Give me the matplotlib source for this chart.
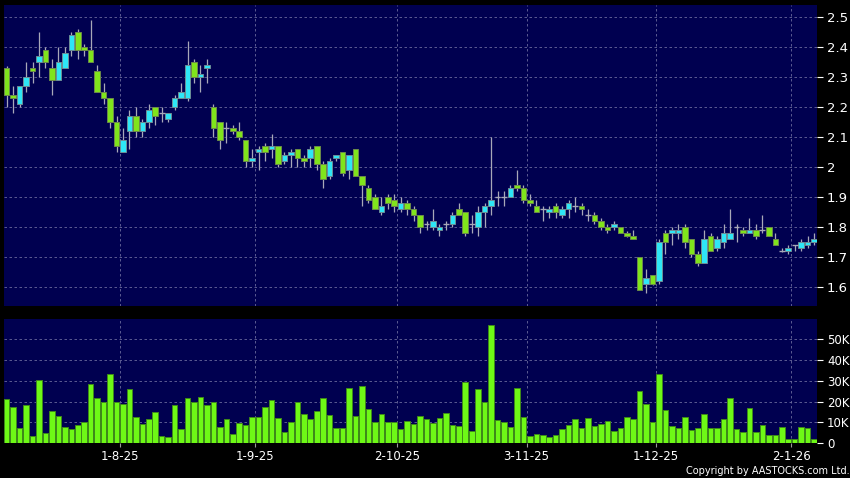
import matplotlib
matplotlib.use("Agg")
import matplotlib.pyplot as plt
import numpy as np

# daily OHLC, one entry per trading day (Jul 2025 - Jan 2026)
opens = [2.33, 2.24, 2.21, 2.27, 2.33, 2.35, 2.39, 2.33, 2.29, 2.33,
         2.39, 2.45, 2.40, 2.39, 2.32, 2.25, 2.23, 2.15, 2.05, 2.12,
         2.17, 2.12, 2.15, 2.20, 2.18, 2.16, 2.20, 2.23, 2.23, 2.35,
         2.30, 2.33, 2.20, 2.15, 2.13, 2.13, 2.12, 2.09, 2.02, 2.05,
         2.07, 2.06, 2.07, 2.02, 2.04, 2.06, 2.03, 2.03, 2.07, 2.01,
         1.97, 2.03, 2.05, 1.99, 2.06, 1.97, 1.93, 1.90, 1.85, 1.90,
         1.89, 1.86, 1.88, 1.86, 1.84, 1.81, 1.80, 1.79, 1.81, 1.81,
         1.86, 1.85, 1.81, 1.80, 1.85, 1.87, 1.90, 1.90, 1.90, 1.94,
         1.93, 1.89, 1.87, 1.86, 1.85, 1.87, 1.84, 1.86, 1.87, 1.87,
         1.84, 1.84, 1.82, 1.80, 1.80, 1.80, 1.78, 1.77, 1.70, 1.61,
         1.64, 1.62, 1.78, 1.78, 1.78, 1.80, 1.76, 1.71, 1.68, 1.77,
         1.73, 1.75, 1.76, 1.80, 1.79, 1.78, 1.79, 1.79, 1.80, 1.76,
         1.72, 1.72, 1.74, 1.73, 1.74, 1.75]
highs = [2.335, 2.27, 2.27, 2.35, 2.35, 2.45, 2.40, 2.36, 2.40, 2.40,
         2.45, 2.46, 2.41, 2.49, 2.34, 2.28, 2.23, 2.17, 2.13, 2.19,
         2.20, 2.16, 2.21, 2.20, 2.20, 2.18, 2.24, 2.28, 2.42, 2.36,
         2.34, 2.36, 2.21, 2.15, 2.15, 2.14, 2.15, 2.09, 2.06, 2.07,
         2.08, 2.11, 2.07, 2.05, 2.06, 2.06, 2.04, 2.07, 2.07, 2.02,
         2.03, 2.04, 2.05, 2.04, 2.06, 1.97, 1.94, 1.91, 1.90, 1.91,
         1.91, 1.90, 1.89, 1.87, 1.84, 1.82, 1.86, 1.81, 1.82, 1.85,
         1.88, 1.85, 1.84, 1.87, 1.88, 2.10, 1.92, 1.92, 1.94, 1.99,
         1.94, 1.91, 1.89, 1.87, 1.87, 1.88, 1.87, 1.89, 1.90, 1.88,
         1.86, 1.85, 1.83, 1.81, 1.82, 1.80, 1.785, 1.79, 1.70, 1.66,
         1.64, 1.76, 1.79, 1.80, 1.81, 1.81, 1.76, 1.72, 1.79, 1.78,
         1.77, 1.81, 1.86, 1.81, 1.80, 1.83, 1.81, 1.84, 1.80, 1.78,
         1.73, 1.74, 1.74, 1.76, 1.77, 1.78]
lows = [2.20, 2.18, 2.20, 2.25, 2.28, 2.30, 2.33, 2.24, 2.29, 2.33,
        2.37, 2.36, 2.37, 2.35, 2.25, 2.21, 2.13, 2.05, 2.05, 2.06,
        2.10, 2.10, 2.13, 2.14, 2.15, 2.15, 2.19, 2.23, 2.22, 2.28,
        2.25, 2.28, 2.10, 2.06, 2.08, 2.11, 2.09, 2.00, 2.00, 1.99,
        2.02, 2.03, 2.00, 2.01, 2.00, 2.00, 2.00, 2.00, 1.99, 1.93,
        1.96, 2.02, 1.97, 1.96, 1.97, 1.87, 1.88, 1.86, 1.84, 1.86,
        1.85, 1.85, 1.84, 1.82, 1.78, 1.79, 1.79, 1.77, 1.79, 1.80,
        1.84, 1.77, 1.78, 1.77, 1.80, 1.84, 1.87, 1.87, 1.90, 1.92,
        1.88, 1.87, 1.85, 1.82, 1.83, 1.83, 1.83, 1.83, 1.85, 1.84,
        1.82, 1.81, 1.79, 1.78, 1.79, 1.78, 1.765, 1.76, 1.59, 1.58,
        1.605, 1.61, 1.71, 1.74, 1.76, 1.73, 1.70, 1.67, 1.68, 1.72,
        1.72, 1.73, 1.76, 1.75, 1.77, 1.78, 1.76, 1.78, 1.77, 1.74,
        1.715, 1.71, 1.72, 1.72, 1.73, 1.74]
closes = [2.24, 2.23, 2.27, 2.30, 2.32, 2.37, 2.35, 2.29, 2.35, 2.38,
          2.44, 2.39, 2.39, 2.35, 2.25, 2.23, 2.15, 2.07, 2.09, 2.17,
          2.12, 2.15, 2.19, 2.17, 2.18, 2.18, 2.23, 2.25, 2.34, 2.30,
          2.31, 2.34, 2.13, 2.09, 2.13, 2.12, 2.10, 2.02, 2.03, 2.06,
          2.05, 2.07, 2.01, 2.04, 2.05, 2.03, 2.02, 2.06, 2.01, 1.96,
          2.02, 2.04, 1.98, 2.04, 1.97, 1.94, 1.89, 1.86, 1.87, 1.88,
          1.87, 1.88, 1.86, 1.84, 1.80, 1.81, 1.82, 1.80, 1.81, 1.84,
          1.84, 1.78, 1.81, 1.85, 1.87, 1.89, 1.90, 1.90, 1.93, 1.93,
          1.89, 1.88, 1.85, 1.86, 1.86, 1.85, 1.86, 1.88, 1.87, 1.86,
          1.84, 1.82, 1.80, 1.79, 1.81, 1.78, 1.77, 1.76, 1.59, 1.63,
          1.61, 1.75, 1.75, 1.79, 1.79, 1.75, 1.71, 1.68, 1.76, 1.72,
          1.76, 1.78, 1.78, 1.80, 1.78, 1.79, 1.77, 1.79, 1.77, 1.74,
          1.72, 1.73, 1.74, 1.75, 1.75, 1.76]
# volume in thousands of shares
volumes = [21.2, 17.4, 7.2, 18.2, 3.4, 30.2, 4.8, 15.3, 12.9, 7.7,
           6.9, 8.9, 10.1, 28.4, 21.7, 19.9, 33.1, 19.9, 18.7, 26.0,
           12.6, 9.1, 11.5, 14.9, 3.4, 2.9, 18.4, 6.9, 21.7, 19.6,
           22.0, 18.4, 19.9, 8.0, 11.6, 4.5, 9.6, 8.8, 12.6, 12.6,
           17.4, 20.6, 12.1, 5.3, 10.1, 19.6, 14.0, 11.5, 15.3, 21.6,
           13.6, 7.2, 7.2, 26.7, 13.2, 27.6, 16.4, 10.2, 13.9, 10.2,
           10.3, 6.7, 10.5, 9.4, 13.2, 11.6, 9.9, 12.3, 14.4, 8.8,
           8.1, 29.4, 5.7, 26.0, 19.9, 56.7, 11.0, 10.3, 7.7, 26.5,
           12.5, 3.4, 4.5, 4.1, 2.9, 4.0, 6.9, 8.8, 11.6, 7.2,
           12.0, 8.4, 9.1, 10.8, 6.1, 7.5, 12.6, 11.6, 24.9, 18.8,
           10.2, 33.4, 16.0, 8.1, 7.3, 12.8, 6.4, 7.3, 13.9, 7.2,
           7.2, 11.6, 21.9, 6.9, 5.3, 17.1, 5.4, 8.9, 3.8, 4.1,
           7.8, 2.1, 1.9, 8.0, 7.2, 2.1]

date_labels = ["1-8-25", "1-9-25", "2-10-25", "3-11-25", "1-12-25", "2-1-26"]
date_index = [17, 38, 60, 80, 100, 121]
price_ticks = [1.6, 1.7, 1.8, 1.9, 2.0, 2.1, 2.2, 2.3, 2.4, 2.5]
vol_ticks = [0, 10, 20, 30, 40, 50]

BG = "#000050"
GRID = "#6a6a9c"
UP = "#2ee6f6"
DOWN = "#80e41c"
WICK = "#a8a8b8"

o = np.array(opens)
h = np.array(highs)
l = np.array(lows)
c = np.array(closes)
x = np.arange(len(o))

fig = plt.figure(figsize=(8.5, 4.78), dpi=100, facecolor="black")
ax = fig.add_axes([0.0047, 0.3605, 0.9568, 0.629], facecolor=BG)
axv = fig.add_axes([0.0047, 0.0726, 0.9568, 0.26], facecolor=BG)

xt = np.array(date_index) + 0.5

for a in (ax, axv):
    for s in a.spines.values():
        s.set_visible(False)
    a.set_xlim(-0.42, 125.5)
    a.set_xticks(xt)
    for xv in xt:
        a.axvline(xv, color=GRID, lw=0.6, ls=(0, (3, 3)), zorder=0)
    a.yaxis.tick_right()
    a.tick_params(axis="y", colors="white", length=4, width=0.8, pad=3)

# price panel
ax.set_ylim(1.537, 2.539)
ax.set_yticks(price_ticks)
ax.set_yticklabels(["%g" % p for p in price_ticks], fontsize=9.5)
for p in price_ticks:
    ax.axhline(p, color=GRID, lw=0.6, ls=(0, (3, 3)), zorder=0)
ax.tick_params(axis="x", length=0, labelbottom=False)

ax.vlines(x, l, h, color=WICK, lw=0.9, zorder=2)
up = c > o
down = c < o
flat = c == o
ax.bar(x[up], (c - o)[up], bottom=o[up], width=0.86, color=UP,
       edgecolor="#6c8e96", linewidth=0.7, zorder=3)
ax.bar(x[down], (o - c)[down], bottom=c[down], width=0.86, color=DOWN,
       edgecolor="#6c8a4a", linewidth=0.7, zorder=3)
ax.hlines(c[flat], x[flat] - 0.45, x[flat] + 0.45, color=WICK, lw=1.0, zorder=3)

# volume panel
axv.set_ylim(0, 59.6)
axv.set_yticks(vol_ticks)
axv.set_yticklabels(["0"] + ["%dK" % v for v in vol_ticks[1:]], fontsize=8.5)
for v in vol_ticks[1:]:
    axv.axhline(v, color=GRID, lw=0.6, ls=(0, (3, 3)), zorder=0)
axv.bar(x, volumes, width=0.86, color="#6ef816", edgecolor="#3f8a1a",
        linewidth=0.7, zorder=3)
axv.set_xticklabels(date_labels, fontsize=8.5, color="white")
axv.tick_params(axis="x", colors="#9a9a9a", labelcolor="white", length=3,
                width=0.8, pad=2)

fig.text(0.999, 0.004, "Copyright by AASTOCKS.com Ltd.", color="white",
         fontsize=7, ha="right", va="bottom")

fig.savefig("out.png", dpi=100, facecolor="black")
